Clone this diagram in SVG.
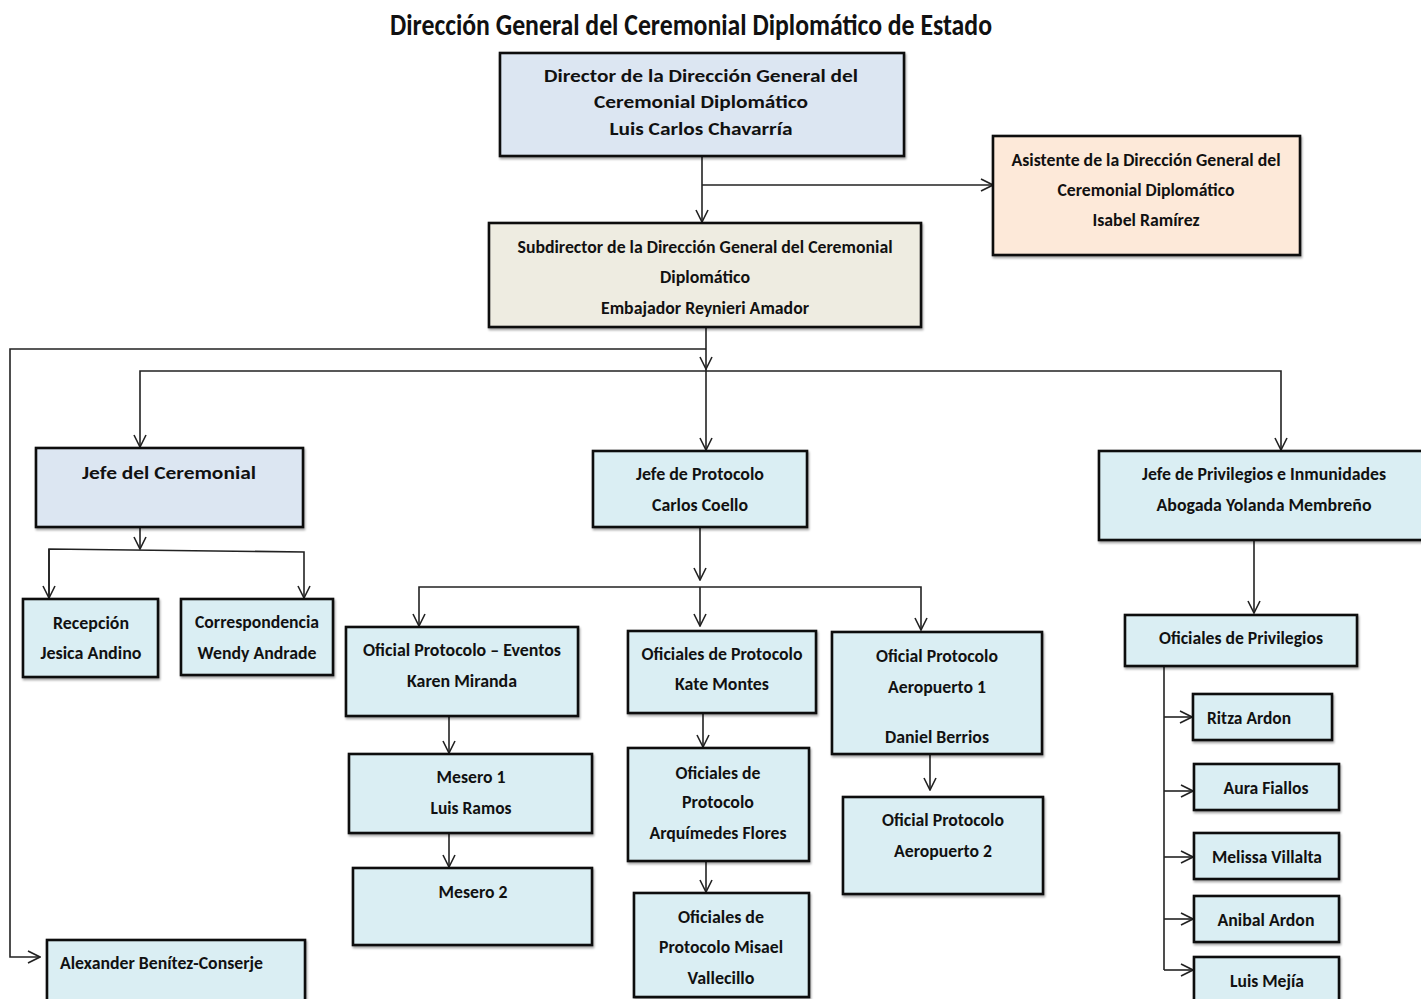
<svg xmlns="http://www.w3.org/2000/svg" width="1421" height="999" viewBox="0 0 1421 999">
<style>
.b{stroke:#111;stroke-width:2.6;filter:url(#sh)}
.blue{fill:#dce6f2}
.cyan{fill:#daeef3}
.peach{fill:#fde9d9}
.tan{fill:#eeece1}
text{font-family:Carlito,"Liberation Sans Narrow","Liberation Sans",sans-serif;font-weight:bold;font-size:19px;fill:#111;text-anchor:middle}
.title{font-size:30px}
.c{fill:none;stroke:#222;stroke-width:1.6}
</style>
<defs>
<filter id="sh" x="-5%" y="-5%" width="110%" height="120%">
<feDropShadow dx="1" dy="2" stdDeviation="1" flood-color="#000" flood-opacity="0.35"/>
</filter>
<marker id="a" viewBox="0 0 14 14" refX="13" refY="7" markerWidth="14" markerHeight="14" markerUnits="userSpaceOnUse" orient="auto">
<path d="M1,1 L13,7 L1,13" fill="none" stroke="#222" stroke-width="1.6"/>
</marker>
</defs>
<rect width="1421" height="999" fill="#fff"/>
<text class="title" x="691" y="35" textLength="602" lengthAdjust="spacingAndGlyphs">Dirección General del Ceremonial Diplomático de Estado</text>

<g id="connectors">
<path class="c" d="M702,156 V222" marker-end="url(#a)"/>
<path class="c" d="M702,185 H993" marker-end="url(#a)"/>
<path class="c" d="M706,327 V369" marker-end="url(#a)"/>
<path class="c" d="M706,369 V450" marker-end="url(#a)"/>
<path class="c" d="M706,349 H10 V957 H40" marker-end="url(#a)"/>
<path class="c" d="M706,371 H140 V447" marker-end="url(#a)"/>
<path class="c" d="M706,371 H1281 V450" marker-end="url(#a)"/>
<path class="c" d="M140,527 V549" marker-end="url(#a)"/>
<path class="c" d="M49,598 V549 L304,552 V598" marker-end="url(#a)"/>
<path class="c" d="M49,549 V598" marker-end="url(#a)"/>
<path class="c" d="M700,527 V580" marker-end="url(#a)"/>
<path class="c" d="M700,587 H419 V626" marker-end="url(#a)"/>
<path class="c" d="M700,587 V626" marker-end="url(#a)"/>
<path class="c" d="M700,587 H921 V630" marker-end="url(#a)"/>
<path class="c" d="M449,716 V753" marker-end="url(#a)"/>
<path class="c" d="M449,827 V867" marker-end="url(#a)"/>
<path class="c" d="M703,713 V747" marker-end="url(#a)"/>
<path class="c" d="M706,861 V892" marker-end="url(#a)"/>
<path class="c" d="M930,754 V790" marker-end="url(#a)"/>
<path class="c" d="M1254,540 V613" marker-end="url(#a)"/>
<path class="c" d="M1164,666 V970"/>
<path class="c" d="M1164,717 H1192" marker-end="url(#a)"/>
<path class="c" d="M1164,791 H1193" marker-end="url(#a)"/>
<path class="c" d="M1164,857 H1193" marker-end="url(#a)"/>
<path class="c" d="M1164,919 H1193" marker-end="url(#a)"/>
<path class="c" d="M1164,970 H1193" marker-end="url(#a)"/>
</g>

<g id="director"><rect class="b blue" x="500" y="53" width="404" height="103"/>
<text x="701" y="82" textLength="314" lengthAdjust="spacingAndGlyphs">Director de la Dirección General del</text>
<text x="701" y="108" textLength="214" lengthAdjust="spacingAndGlyphs">Ceremonial Diplomático</text>
<text x="701" y="135" textLength="183" lengthAdjust="spacingAndGlyphs">Luis Carlos Chavarría</text></g>

<g id="asistente"><rect class="b peach" x="993" y="136" width="307" height="119"/>
<text x="1146" y="166" textLength="269" lengthAdjust="spacingAndGlyphs">Asistente de la Dirección General del</text>
<text x="1146" y="196" textLength="177" lengthAdjust="spacingAndGlyphs">Ceremonial Diplomático</text>
<text x="1146" y="226" textLength="107" lengthAdjust="spacingAndGlyphs">Isabel Ramírez</text></g>

<g id="subdirector"><rect class="b tan" x="489" y="223" width="432" height="104"/>
<text x="705" y="253" textLength="375" lengthAdjust="spacingAndGlyphs">Subdirector de la Dirección General del Ceremonial</text>
<text x="705" y="283" textLength="90" lengthAdjust="spacingAndGlyphs">Diplomático</text>
<text x="705" y="314" textLength="208" lengthAdjust="spacingAndGlyphs">Embajador Reynieri Amador</text></g>

<g id="jefe-ceremonial"><rect class="b blue" x="36" y="448" width="267" height="79"/>
<text x="169" y="479" textLength="174" lengthAdjust="spacingAndGlyphs">Jefe del Ceremonial</text></g>

<g id="jefe-protocolo"><rect class="b cyan" x="593" y="451" width="214" height="76"/>
<text x="700" y="480" textLength="128" lengthAdjust="spacingAndGlyphs">Jefe de Protocolo</text>
<text x="700" y="511" textLength="96" lengthAdjust="spacingAndGlyphs">Carlos Coello</text></g>

<g id="jefe-privilegios"><rect class="b cyan" x="1099" y="451" width="330" height="89"/>
<text x="1264" y="480" textLength="244" lengthAdjust="spacingAndGlyphs">Jefe de Privilegios e Inmunidades</text>
<text x="1264" y="511" textLength="215" lengthAdjust="spacingAndGlyphs">Abogada Yolanda Membreño</text></g>

<g id="recepcion"><rect class="b cyan" x="23" y="599" width="135" height="78"/>
<text x="91" y="629" textLength="76" lengthAdjust="spacingAndGlyphs">Recepción</text>
<text x="91" y="659" textLength="101" lengthAdjust="spacingAndGlyphs">Jesica Andino</text></g>

<g id="correspondencia"><rect class="b cyan" x="181" y="599" width="152" height="76"/>
<text x="257" y="628" textLength="124" lengthAdjust="spacingAndGlyphs">Correspondencia</text>
<text x="257" y="659" textLength="119" lengthAdjust="spacingAndGlyphs">Wendy Andrade</text></g>

<g id="oficial-eventos"><rect class="b cyan" x="346" y="627" width="232" height="89"/>
<text x="462" y="656" textLength="198" lengthAdjust="spacingAndGlyphs">Oficial Protocolo – Eventos</text>
<text x="462" y="687" textLength="110" lengthAdjust="spacingAndGlyphs">Karen Miranda</text></g>

<g id="kate-montes"><rect class="b cyan" x="628" y="631" width="188" height="82"/>
<text x="722" y="660" textLength="161" lengthAdjust="spacingAndGlyphs">Oficiales de Protocolo</text>
<text x="722" y="690" textLength="94" lengthAdjust="spacingAndGlyphs">Kate Montes</text></g>

<g id="aeropuerto1"><rect class="b cyan" x="832" y="632" width="210" height="122"/>
<text x="937" y="662" textLength="122" lengthAdjust="spacingAndGlyphs">Oficial Protocolo</text>
<text x="937" y="693" textLength="98" lengthAdjust="spacingAndGlyphs">Aeropuerto 1</text>
<text x="937" y="743" textLength="104" lengthAdjust="spacingAndGlyphs">Daniel Berrios</text></g>

<g id="mesero1"><rect class="b cyan" x="349" y="754" width="243" height="79"/>
<text x="471" y="783" textLength="69" lengthAdjust="spacingAndGlyphs">Mesero 1</text>
<text x="471" y="814" textLength="81" lengthAdjust="spacingAndGlyphs">Luis Ramos</text></g>

<g id="mesero2"><rect class="b cyan" x="353" y="868" width="239" height="77"/>
<text x="473" y="898" textLength="69" lengthAdjust="spacingAndGlyphs">Mesero 2</text></g>

<g id="arquimedes"><rect class="b cyan" x="628" y="748" width="181" height="113"/>
<text x="718" y="779" textLength="85" lengthAdjust="spacingAndGlyphs">Oficiales de</text>
<text x="718" y="808" textLength="72" lengthAdjust="spacingAndGlyphs">Protocolo</text>
<text x="718" y="839" textLength="137" lengthAdjust="spacingAndGlyphs">Arquímedes Flores</text></g>

<g id="aeropuerto2"><rect class="b cyan" x="843" y="797" width="200" height="97"/>
<text x="943" y="826" textLength="122" lengthAdjust="spacingAndGlyphs">Oficial Protocolo</text>
<text x="943" y="857" textLength="98" lengthAdjust="spacingAndGlyphs">Aeropuerto 2</text></g>

<g id="misael"><rect class="b cyan" x="634" y="893" width="175" height="104"/>
<text x="721" y="923" textLength="86" lengthAdjust="spacingAndGlyphs">Oficiales de</text>
<text x="721" y="953" textLength="124" lengthAdjust="spacingAndGlyphs">Protocolo Misael</text>
<text x="721" y="984" textLength="67" lengthAdjust="spacingAndGlyphs">Vallecillo</text></g>

<g id="oficiales-privilegios"><rect class="b cyan" x="1125" y="615" width="232" height="51"/>
<text x="1241" y="644" textLength="164" lengthAdjust="spacingAndGlyphs">Oficiales de Privilegios</text></g>

<g id="ritza"><rect class="b cyan" x="1193" y="694" width="139" height="46"/>
<text x="1249" y="724" textLength="84" lengthAdjust="spacingAndGlyphs">Ritza Ardon</text></g>

<g id="aura"><rect class="b cyan" x="1194" y="764" width="145" height="46"/>
<text x="1266" y="794" textLength="85" lengthAdjust="spacingAndGlyphs">Aura Fiallos</text></g>

<g id="melissa"><rect class="b cyan" x="1194" y="833" width="145" height="46"/>
<text x="1267" y="863" textLength="110" lengthAdjust="spacingAndGlyphs">Melissa Villalta</text></g>

<g id="anibal"><rect class="b cyan" x="1194" y="896" width="145" height="46"/>
<text x="1266" y="926" textLength="97" lengthAdjust="spacingAndGlyphs">Anibal Ardon</text></g>

<g id="luis-mejia"><rect class="b cyan" x="1194" y="957" width="145" height="50"/>
<text x="1267" y="987" textLength="74" lengthAdjust="spacingAndGlyphs">Luis Mejía</text></g>

<g id="alexander"><rect class="b cyan" x="47" y="940" width="258" height="70"/>
<text x="60" y="969" style="text-anchor:start" textLength="203" lengthAdjust="spacingAndGlyphs">Alexander Benítez-Conserje</text></g>
</svg>
